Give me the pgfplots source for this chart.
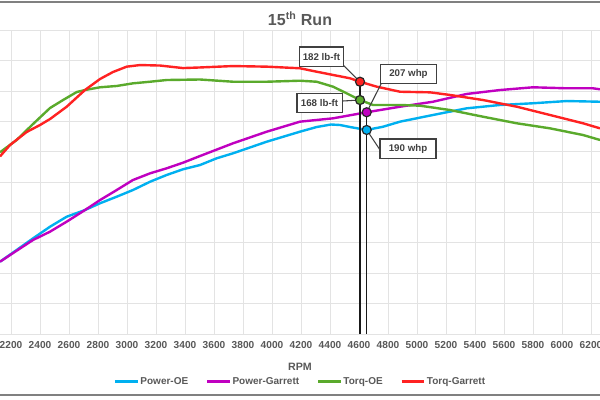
\documentclass[border=0pt]{standalone}
\usepackage{pgfplots}
\pgfplotsset{compat=1.18}
\usepackage{fontspec}
\setmainfont{Liberation Sans}
\definecolor{txtgray}{HTML}{595959}
\definecolor{gridgray}{HTML}{E3E3E3}
\definecolor{cblue}{HTML}{00B0F0}
\definecolor{cmag}{HTML}{C000C0}
\definecolor{cgreen}{HTML}{5AAA2C}
\definecolor{cred}{HTML}{FF2222}
\definecolor{boxgray}{HTML}{404040}
\begin{document}
\begin{tikzpicture}
\useasboundingbox (0,0) rectangle (450pt,300pt);
\fill[white] (0,0) rectangle (450pt,300pt);
\clip (0,0) rectangle (450pt,300pt);
\begin{axis}[
  at={(0pt,49.5pt)}, anchor=south west,
  width=450pt, height=227.5pt, scale only axis,
  xmin=2124, xmax=6262, ymin=0, ymax=300,
  xtick={2200,2400,...,6200},
  ytick={0,30,...,300}, yticklabels={},
  grid=major, major grid style={gridgray, line width=0.75pt},
  axis line style={draw=none}, tick style={draw=none},
  /pgf/number format/assume math mode=true,
  /pgf/number format/set thousands separator={},
  xticklabel style={font=\bfseries\fontsize{7.6}{9}\selectfont, text=txtgray, inner sep=2pt, yshift=-3.5pt},
  title={15\textsuperscript{th} Run},
  title style={at={(axis description cs:0.5,1.035)}, anchor=center, yshift=-5pt, font=\bfseries\fontsize{12}{14}\selectfont, text=txtgray},
  xlabel={RPM},
  xlabel style={at={(axis description cs:0.5,-0.109)}, anchor=center, font=\bfseries\fontsize{8}{10}\selectfont, text=txtgray},
  legend style={at={(axis description cs:0.5,-0.157)}, anchor=center, draw=none, fill=none,
    font=\bfseries\fontsize{7.5}{9}\selectfont, text=txtgray, inner sep=0pt,
    /tikz/every even column/.append style={column sep=12pt},
    nodes={inner sep=1pt}},
  legend columns=4,
  legend image code/.code={\draw[line width=2.2pt] (0pt,0pt) -- (17pt,0pt);},
]
\addplot[cblue, line width=1.8pt] coordinates {
(2124,71.5)(2239,83.1)(2352,94.6)(2469,106.1)(2584,116)(2710,122.6)(2814,129.3)(2929,135.8)
(3041,142.4)(3159,150.6)(3274,157.3)(3386,162.9)(3503,167.1)(3619,173.8)(3731,178.7)(3964,190.2)
(4193,200.1)(4308,204.7)(4407,207.2)(4469,206.7)(4538,204.7)(4653,201.8)(4766,205)(4883,210)
(5110,216.6)(5343,223.2)(5573,226.5)(5800,228.2)(6033,230.4)(6262,229.7)};
\addlegendentry{Power-OE}
\addplot[cmag, line width=1.8pt] coordinates {
(2124,71.5)(2239,82.4)(2352,93)(2469,101.2)(2584,111.1)(2710,122.6)(2814,132.5)(2929,142.4)
(3041,152.3)(3159,158.9)(3274,163.9)(3386,169.4)(3503,176)(3731,188.6)(3964,200.1)(4193,210)
(4421,213.3)(4653,219.3)(4883,224.8)(5110,229.7)(5343,237.4)(5573,241.3)(5800,244)(6033,243)
(6214,243)(6262,242)};
\addlegendentry{Power-Garrett}
\addplot[cgreen, line width=1.8pt] coordinates {
(2124,179.7)(2239,191.9)(2352,207.7)(2469,223.5)(2559,231.4)(2653,239.3)(2710,241.3)(2814,244)
(2929,245.3)(3041,247.9)(3159,249.5)(3274,251.2)(3503,251.7)(3731,249.5)(3964,249.5)(4193,250.5)
(4308,249.5)(4421,244.6)(4515,238)(4607,231.4)(4697,226.5)(4883,226.5)(5021,225.8)(5228,221.5)
(5455,214.9)(5688,208.4)(5917,203.4)(6145,196.8)(6262,191.9)};
\addlegendentry{Torq-OE}
\addplot[cred, line width=1.8pt] coordinates {
(2124,175.6)(2193,186.9)(2308,199.8)(2400,206.7)(2469,212.6)(2584,224.8)(2710,241.3)(2814,252.2)
(2903,259.1)(2998,264.4)(3090,266)(3228,265.5)(3386,263)(3503,263.6)(3731,265)(3964,264.4)
(4193,262.8)(4308,259.4)(4421,256.2)(4538,252.9)(4607,249.5)(4722,244.6)(4883,239.6)(5090,239)
(5228,236.4)(5455,231.4)(5688,224.8)(5917,216.6)(6145,208.4)(6262,203.4)};
\addlegendentry{Torq-Garrett}
% cursor lines
\addplot[forget plot, black!90, line width=1.1pt] coordinates {(4607,0)(4607,249.5)};
\addplot[forget plot, black!90, line width=1.1pt] coordinates {(4653,0)(4653,219.3)};
% leader lines
\draw[boxgray, line width=0.8pt] (axis cs:4490,266) -- (axis cs:4607,249.5);
\draw[boxgray, line width=0.8pt] (axis cs:4483,230.4) -- (axis cs:4607,231.4);
\draw[boxgray, line width=0.8pt] (axis cs:4752,247.3) -- (axis cs:4653,219.3);
\draw[boxgray, line width=0.8pt] (axis cs:4653,201.8) -- (axis cs:4745,182);
% markers
\addplot[forget plot, only marks, mark=*, mark size=3.4pt, mark options={fill=cred, draw=black!85, line width=0.9pt}] coordinates {(4607,249.5)};
\addplot[forget plot, only marks, mark=*, mark size=3.4pt, mark options={fill=cgreen, draw=black!85, line width=0.9pt}] coordinates {(4607,231.4)};
\addplot[forget plot, only marks, mark=*, mark size=3.4pt, mark options={fill=cmag, draw=black!85, line width=0.9pt}] coordinates {(4653,219.3)};
\addplot[forget plot, only marks, mark=*, mark size=3.4pt, mark options={fill=cblue, draw=black!85, line width=0.9pt}] coordinates {(4653,201.8)};
% callout boxes
\tikzset{callout/.style={draw=boxgray, line width=1pt, fill=white, text=boxgray, font=\bfseries\fontsize{7.3}{8}\selectfont, minimum height=14.5pt, inner sep=1pt}}
\node[callout, minimum width=33pt] at (axis cs:4341,274.4) {182 lb-ft};
\node[callout, minimum width=34pt] at (axis cs:4328,228.5) {168 lb-ft};
\node[callout, minimum width=42pt] at (axis cs:4941,257.1) {207 whp};
\node[callout, minimum width=42pt] at (axis cs:4938,183.4) {190 whp};
\end{axis}
\draw[black!50, line width=1.5pt] (0,298.5pt) -- (450pt,298.5pt);
\draw[black!50, line width=1.5pt] (0,3.5pt) -- (450pt,3.5pt);
\end{tikzpicture}
\end{document}
